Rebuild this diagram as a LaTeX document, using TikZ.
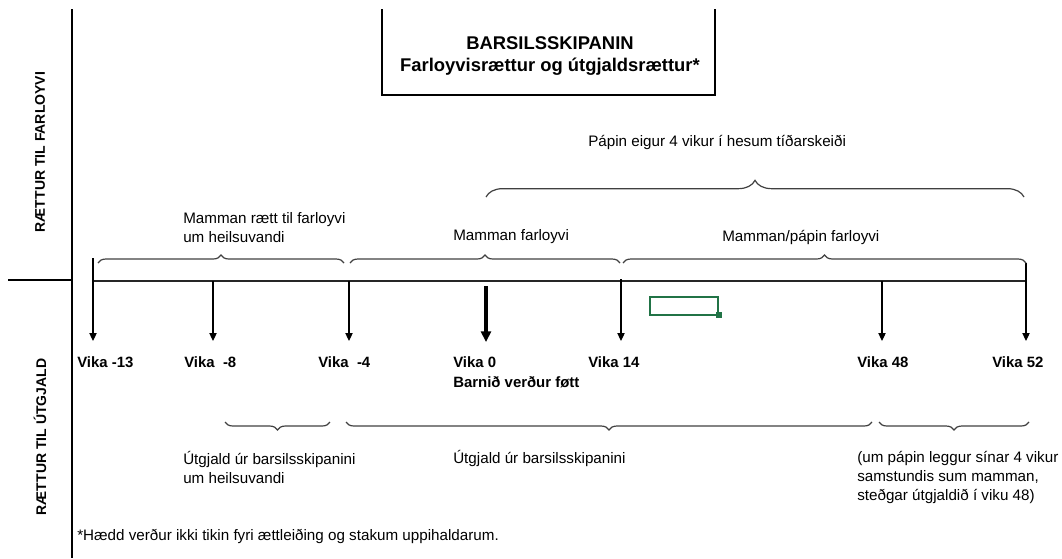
\documentclass[tikz,border=0pt]{standalone}
\usepackage{fontspec}
\setmainfont{Liberation Sans}
\usetikzlibrary{decorations.pathreplacing,arrows.meta}
\definecolor{xlgreen}{HTML}{217346}
\definecolor{bracegray}{HTML}{404040}
\tikzset{
  txt/.style={font=\fontsize{11.4}{14.5}\selectfont, inner sep=0pt, align=left, anchor=west},
  vika/.style={font=\bfseries\fontsize{11.2}{14}\selectfont, inner sep=0pt, anchor=west},
  sidelabel/.style={font=\bfseries\fontsize{10.5}{12}\selectfont, inner sep=0pt, rotate=90},
  frame/.style={draw=black, line width=1.9pt},
  timeline/.style={draw=black!85, line width=1.1pt},
  weekarrow/.style={draw=black, line width=0.8pt, -{Triangle[length=6pt,width=5.5pt]}},
  birtharrow/.style={draw=black, line width=2.8pt, -{Triangle[length=8pt,width=7.5pt]}},
  upbrace/.style={draw=bracegray, line width=0.9pt, decorate, decoration={brace, amplitude=6pt}},
  bigbrace/.style={draw=bracegray, line width=0.9pt, decorate, decoration={brace, amplitude=12.5pt}},
  downbrace/.style={draw=bracegray, line width=0.9pt, decorate, decoration={brace, mirror, amplitude=6pt}},
}
\begin{document}
\begin{tikzpicture}[x=0.75pt,y=-0.75pt]
\useasboundingbox (0,0) rectangle (1062,558);

% frame
\coordinate (ftop) at (72,9);
\coordinate (fbot) at (72,558);
\coordinate (fmid) at (72,280);
\coordinate (fleft) at (8,280);
\draw[frame] (ftop) -- (fbot);
\draw[frame] (fleft) -- (fmid);

% title box (open at the top)
\coordinate (tbl) at (382,9);
\coordinate (tbr) at (715,9);
\draw[frame] (tbl) -- (382,95) -- (715,95) -- (tbr);
\node[font=\bfseries\fontsize{13.8}{16.5}\selectfont, align=center, inner sep=0pt] (title) at (550,56)
  {BARSILSSKIPANIN\\Farloyvisrættur og útgjaldsrættur*};

% side labels
\node[sidelabel] (sideA) at (40,152) {RÆTTUR TIL FARLOYVI};
\node[sidelabel] (sideB) at (40,437) {RÆTTUR TIL ÚTGJALD};

% timeline
\coordinate (tlL) at (93,281);
\coordinate (tlR) at (1026,281);
\draw[timeline] (tlL) -- (tlR);

% week start / tip coordinates
\coordinate (s13) at (93,258);  \coordinate (e13) at (93,341);
\coordinate (s8)  at (213,281); \coordinate (e8)  at (213,341);
\coordinate (s4)  at (349,281); \coordinate (e4)  at (349,341);
\coordinate (s0)  at (486,286); \coordinate (e0)  at (486,342);
\coordinate (s14) at (621,279); \coordinate (e14) at (621,341);
\coordinate (s48) at (882,281); \coordinate (e48) at (882,341);
\coordinate (s52) at (1026,263);\coordinate (e52) at (1026,341);

\draw[weekarrow] (s13) -- (e13);
\draw[weekarrow] (s8) -- (e8);
\draw[weekarrow] (s4) -- (e4);
\draw[birtharrow] (s0) -- (e0);
\draw[weekarrow] (s14) -- (e14);
\draw[weekarrow] (s48) -- (e48);
\draw[weekarrow] (s52) -- (e52);

% week labels
\node[vika] (v13) at (77,362) {Vika -13};
\node[vika] (v8)  at (184,362) {Vika\ \ -8};
\node[vika] (v4)  at (318,362) {Vika\ \ -4};
\node[vika] (v0)  at (453,362) {Vika 0};
\node[vika] (birth) at (453,382) {Barnið verður føtt};
\node[vika] (v14) at (588,362) {Vika 14};
\node[vika] (v48) at (857,362) {Vika 48};
\node[vika] (v52) at (992,362) {Vika 52};

% upper braces
\coordinate (b1L) at (98,263);  \coordinate (b1R) at (344,263);
\coordinate (b2L) at (350,263); \coordinate (b2R) at (620,263);
\coordinate (b3L) at (623,263); \coordinate (b3R) at (1026,263);
\coordinate (bbL) at (486,197); \coordinate (bbR) at (1024,197);
\draw[upbrace] (b1L) -- (b1R);
\draw[upbrace] (b2L) -- (b2R);
\draw[upbrace] (b3L) -- (b3R);
\draw[bigbrace] (bbL) -- (bbR);

\node[txt] (pabbi) at (588,142) {Pápin eigur 4 vikur í hesum tíðarskeiði};
\node[txt] (mheil) at (183,227.5) {Mamman rætt til farloyvi\\um heilsuvandi};
\node[txt] (mfar) at (453,237) {Mamman farloyvi};
\node[txt] (mpfar) at (722,237) {Mamman/pápin farloyvi};

% lower braces
\coordinate (l1L) at (225,422); \coordinate (l1R) at (330,422);
\coordinate (l2L) at (346,422); \coordinate (l2R) at (872,422);
\coordinate (l3L) at (879,422); \coordinate (l3R) at (1029,422);
\draw[downbrace] (l1L) -- (l1R);
\draw[downbrace] (l2L) -- (l2R);
\draw[downbrace] (l3L) -- (l3R);

\node[txt] (uheil) at (183,467.5) {Útgjald úr barsilsskipanini\\um heilsuvandi};
\node[txt] (ubars) at (453,458) {Útgjald úr barsilsskipanini};
\node[txt] (upabbi) at (857,477.5) {(um pápin leggur sínar 4 vikur\\samstundis sum mamman,\\steðgar útgjaldið í viku 48)};

% footnote
\node[txt] (foot) at (77,536) {*Hædd verður ikki tikin fyri ættleiðing og stakum uppihaldarum.};

% green cell selection
\draw[xlgreen, line width=1.5pt] (650,297) rectangle (718,315);
\fill[xlgreen] (715.5,312) rectangle (721.5,318);
\end{tikzpicture}
\end{document}
